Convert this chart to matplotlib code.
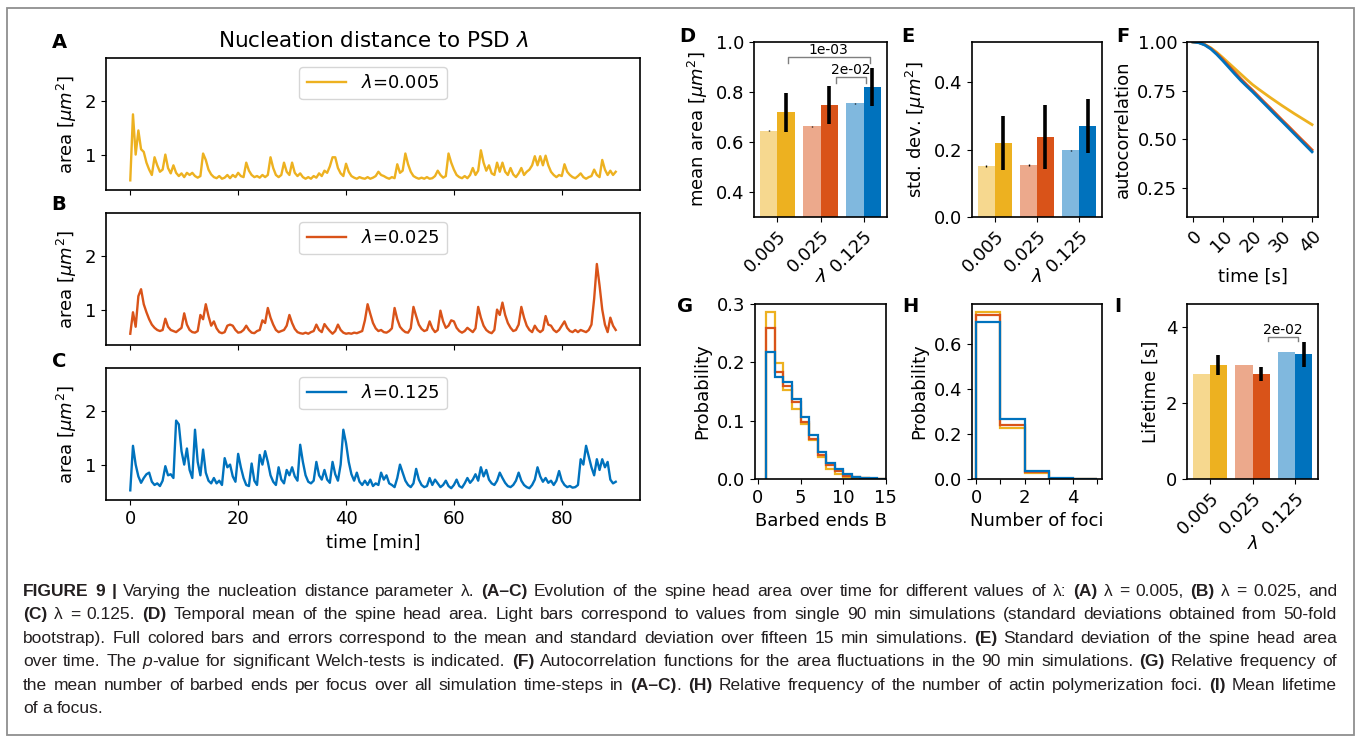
import numpy as np
import matplotlib
matplotlib.use('Agg')
import matplotlib.pyplot as plt
from matplotlib.patches import Rectangle
from matplotlib.font_manager import FontProperties, fontManager

W, H = 1357, 741

# colours (matlab default palette), light versions for the single 90 min runs
cols = ['#EDB120', '#D95319', '#0072BD']
cols_light = ['#F6D88F', '#ECA98C', '#80B8DE']
lam_labels = ['0.005', '0.025', '0.125']

# ---- A-C: spine head area, one value every 0.5 min ----
area_005 = [0.52, 1.75, 1.00, 1.45, 1.10, 1.05, 0.85, 0.72, 0.62, 0.95, 0.80, 0.68, 0.72, 1.00, 0.75, 0.65,
            0.80, 0.66, 0.60, 0.65, 0.58, 0.66, 0.62, 0.66, 0.60, 0.57, 0.60, 1.02, 0.90, 0.72, 0.63, 0.58,
            0.56, 0.60, 0.55, 0.57, 0.62, 0.56, 0.62, 0.58, 0.66, 0.60, 0.58, 0.85, 0.70, 0.62, 0.58, 0.60,
            0.57, 0.62, 0.58, 0.62, 0.95, 0.75, 0.62, 0.58, 0.62, 0.85, 0.68, 0.62, 0.85, 0.66, 0.60, 0.65,
            0.58, 0.55, 0.58, 0.55, 0.60, 0.57, 0.65, 0.60, 0.70, 0.66, 0.78, 0.95, 0.95, 0.75, 0.65, 0.60,
            0.83, 0.68, 0.60, 0.57, 0.55, 0.58, 0.56, 0.55, 0.58, 0.55, 0.57, 0.60, 0.68, 0.62, 0.60, 0.57,
            0.55, 0.58, 0.56, 0.82, 0.66, 0.70, 1.02, 0.82, 0.68, 0.60, 0.57, 0.55, 0.57, 0.55, 0.58, 0.55,
            0.56, 0.60, 0.70, 0.62, 0.57, 0.60, 1.02, 0.85, 0.72, 0.62, 0.58, 0.56, 0.60, 0.56, 0.62, 0.75,
            0.62, 0.70, 1.08, 0.85, 0.70, 0.80, 0.65, 0.62, 0.85, 0.68, 0.85, 0.68, 0.62, 0.75, 0.63, 0.58,
            0.65, 0.75, 0.62, 0.68, 0.72, 0.80, 0.97, 0.80, 0.97, 0.80, 0.98, 0.80, 0.68, 0.62, 0.58, 0.62,
            0.60, 0.82, 0.68, 0.62, 0.58, 0.56, 0.60, 0.65, 0.58, 0.55, 0.58, 0.60, 0.72, 0.62, 0.58, 0.90,
            0.72, 0.62, 0.70, 0.62, 0.68]
area_025 = [0.55, 0.95, 0.68, 1.25, 1.38, 1.10, 0.95, 0.82, 0.72, 0.66, 0.62, 0.60, 0.62, 0.83, 0.68, 0.62,
            0.60, 0.58, 0.62, 0.66, 0.93, 0.72, 0.62, 0.58, 0.57, 0.60, 0.90, 0.82, 1.10, 0.88, 0.70, 0.78,
            0.65, 0.58, 0.56, 0.58, 0.70, 0.72, 0.70, 0.62, 0.57, 0.58, 0.62, 0.70, 0.62, 0.57, 0.56, 0.60,
            0.62, 0.80, 0.75, 1.03, 0.85, 0.72, 0.62, 0.58, 0.60, 0.62, 0.70, 0.90, 0.75, 0.64, 0.58, 0.56,
            0.55, 0.57, 0.55, 0.58, 0.60, 0.72, 0.62, 0.58, 0.73, 0.66, 0.60, 0.55, 0.60, 0.72, 0.62, 0.57,
            0.55, 0.56, 0.55, 0.57, 0.56, 0.58, 0.60, 0.80, 1.10, 0.92, 0.75, 0.65, 0.60, 0.62, 0.58, 0.57,
            0.60, 0.65, 1.03, 0.82, 0.68, 0.62, 0.58, 0.57, 0.65, 1.05, 0.88, 0.72, 0.64, 0.60, 0.62, 0.78,
            0.65, 0.58, 0.62, 0.98, 0.78, 0.66, 0.70, 0.80, 0.78, 0.66, 0.60, 0.57, 0.60, 0.66, 0.62, 0.58,
            0.65, 1.05, 0.85, 0.70, 0.62, 0.58, 0.56, 0.62, 1.00, 0.90, 1.13, 0.90, 0.75, 0.66, 0.60, 0.62,
            0.72, 1.05, 0.85, 0.70, 0.62, 0.58, 0.70, 0.62, 0.58, 0.62, 0.88, 0.72, 0.70, 0.62, 0.58, 0.62,
            0.70, 0.78, 0.66, 0.60, 0.58, 0.62, 0.58, 0.62, 0.60, 0.58, 0.62, 0.72, 1.20, 1.85, 1.45, 1.00,
            0.72, 0.58, 0.85, 0.70, 0.62]
area_125 = [0.52, 1.35, 1.00, 0.78, 0.66, 0.75, 0.82, 0.85, 0.68, 0.62, 0.65, 0.60, 0.70, 0.97, 0.80, 0.82,
            0.75, 1.82, 1.75, 1.25, 1.00, 1.30, 0.90, 0.75, 1.65, 1.05, 0.80, 1.28, 0.85, 0.70, 0.65, 0.75,
            0.65, 0.70, 0.62, 1.12, 0.95, 1.00, 0.78, 0.68, 1.20, 0.95, 0.75, 0.62, 0.60, 1.02, 0.70, 0.62,
            1.18, 1.00, 1.25, 1.05, 0.80, 0.68, 0.62, 0.95, 0.72, 0.65, 0.90, 0.80, 0.95, 0.78, 0.70, 1.37,
            1.05, 0.80, 0.68, 0.65, 0.70, 1.05, 0.80, 0.72, 0.90, 0.72, 0.66, 1.05, 0.82, 0.70, 1.00, 1.65,
            1.40, 1.05, 0.82, 0.70, 0.85, 0.68, 0.62, 0.70, 0.62, 0.72, 0.60, 0.65, 0.62, 0.85, 0.72, 0.80,
            0.65, 0.62, 0.58, 0.75, 1.00, 0.85, 0.70, 0.62, 0.58, 0.65, 0.92, 0.72, 0.62, 0.58, 0.60, 0.75,
            0.62, 0.72, 0.65, 0.58, 0.62, 0.70, 0.60, 0.56, 0.62, 0.72, 0.60, 0.57, 0.65, 0.75, 0.66, 0.72,
            0.82, 0.70, 0.95, 0.78, 0.90, 0.72, 0.65, 0.62, 0.70, 0.85, 0.75, 0.66, 0.60, 0.58, 0.62, 0.70,
            0.85, 0.70, 0.62, 0.58, 0.56, 0.62, 0.72, 0.95, 0.78, 0.68, 0.75, 0.66, 0.70, 0.62, 0.70, 0.88,
            0.70, 0.62, 0.58, 0.60, 0.57, 0.58, 0.62, 1.10, 1.00, 1.35, 1.15, 0.95, 0.80, 1.10, 0.90, 1.10,
            0.95, 1.05, 0.72, 0.65, 0.68]
areas = [area_005, area_025, area_125]
dt_min = 0.5

# ---- D: mean area ----
mean_single = [0.645, 0.663, 0.755]
mean_single_err = [0.002, 0.002, 0.002]
mean_runs = [0.720, 0.748, 0.822]
mean_runs_err = [0.078, 0.077, 0.076]
brackets_D = [('1e-03', 0.24, 2.14, 0.94), ('2e-02', 1.37, 2.05, 0.86)]

# ---- E: std dev ----
std_single = [0.152, 0.155, 0.198]
std_single_err = [0.002, 0.002, 0.002]
std_runs = [0.220, 0.238, 0.270]
std_runs_err = [0.080, 0.095, 0.080]

# ---- F: autocorrelation ----
lag_s = [0, 2, 4, 6, 8, 10, 12, 14, 16, 18, 20, 22, 24, 26, 28, 30, 32, 34, 36, 38, 40]
acf_005 = [1.000, 0.997, 0.987, 0.970, 0.947, 0.920, 0.892, 0.864, 0.836, 0.808, 0.781,
           0.758, 0.736, 0.714, 0.693, 0.672, 0.652, 0.632, 0.613, 0.594, 0.575]
acf_025 = [1.000, 0.997, 0.986, 0.967, 0.941, 0.911, 0.878, 0.845, 0.812, 0.781, 0.752,
           0.721, 0.690, 0.660, 0.629, 0.598, 0.568, 0.537, 0.506, 0.476, 0.445]
acf_125 = [1.000, 0.996, 0.984, 0.964, 0.936, 0.904, 0.870, 0.836, 0.803, 0.773, 0.744,
           0.713, 0.682, 0.651, 0.620, 0.590, 0.559, 0.528, 0.497, 0.466, 0.435]
acfs = [acf_005, acf_025, acf_125]

# ---- G: barbed ends per focus ----
barbed_edges = list(range(1, 16))
barbed_005 = [0.287, 0.199, 0.152, 0.120, 0.095, 0.067, 0.037, 0.018, 0.009, 0.004, 0.002, 0.001, 0.0005, 0.0002]
barbed_025 = [0.259, 0.184, 0.159, 0.132, 0.098, 0.069, 0.041, 0.024, 0.013, 0.006, 0.003, 0.001, 0.0005, 0.0002]
barbed_125 = [0.217, 0.175, 0.166, 0.137, 0.107, 0.076, 0.046, 0.028, 0.017, 0.008, 0.004, 0.002, 0.001, 0.0005]
barbed = [barbed_005, barbed_025, barbed_125]

# ---- H: number of foci ----
foci_edges = [0, 1, 2, 3, 4, 5]
foci_005 = [0.745, 0.229, 0.025, 0.001, 0.0]
foci_025 = [0.732, 0.242, 0.030, 0.002, 0.0]
foci_125 = [0.698, 0.268, 0.037, 0.003, 0.0005]
foci = [foci_005, foci_025, foci_125]

# ---- I: lifetime ----
life_single = [2.75, 3.00, 3.33]
life_runs = [2.99, 2.76, 3.28]
life_runs_err = [0.26, 0.18, 0.33]
brackets_I = [('2e-02', 1.36, 2.06, 3.73)]

FS = 13
plt.rcParams['font.size'] = FS
plt.rcParams['axes.linewidth'] = 1.2

fig = plt.figure(figsize=(W / 100, H / 100), dpi=100)


def px_axes(x0, y0, x1, y1):
    return fig.add_axes([x0 / W, 1 - y1 / H, (x1 - x0) / W, (y1 - y0) / H])


def letter(x, y, s):
    fig.text(x / W, 1 - y / H, s, fontsize=14, fontweight='bold', ha='center', va='center')


# outer frame
fig.patches.append(Rectangle((7 / W, 1 - 735 / H), (1354 - 7) / W, (735 - 8) / H,
                             transform=fig.transFigure, fill=False, ec='#8f8f8f', lw=1.3))

# A-C time series
boxes_ac = [(106, 58, 640, 190), (106, 213, 640, 345), (106, 368, 640, 500)]
for k in range(3):
    ax = px_axes(*boxes_ac[k])
    t = np.arange(len(areas[k])) * dt_min
    ax.plot(t, areas[k], color=cols[k], lw=1.7, label=r'$\lambda$=' + lam_labels[k])
    ax.set_xlim(-4.5, 94.5)
    ax.set_ylim(0.34, 2.8)
    ax.set_yticks([1, 2])
    ax.set_xticks([0, 20, 40, 60, 80])
    ax.set_ylabel(r'area [$\mu m^2$]')
    ax.legend(loc='upper center', fontsize=FS, handlelength=2.2)
    if k < 2:
        ax.tick_params(labelbottom=False)
    else:
        ax.set_xlabel('time [min]')
    if k == 0:
        ax.set_title(r'Nucleation distance to PSD $\lambda$', fontsize=15.5, pad=8)

letter(59, 42, 'A')
letter(59, 205, 'B')
letter(59, 362, 'C')

grp = np.arange(3)


def bar_panel(ax, single, single_err, runs, runs_err):
    for k in range(3):
        ax.bar(grp[k] - 0.2, single[k], 0.4, color=cols_light[k])
        ax.bar(grp[k] + 0.2, runs[k], 0.4, color=cols[k])
    if single_err is not None:
        ax.errorbar(grp - 0.2, single, yerr=single_err, fmt='none', ecolor='k', elinewidth=1, capsize=0)
    ax.errorbar(grp + 0.2, runs, yerr=runs_err, fmt='none', ecolor='k', elinewidth=2.6, capsize=0)
    ax.set_xticks(grp)
    ax.set_xticklabels(lam_labels, rotation=45, ha='right', rotation_mode='anchor')
    ax.set_xlabel(r'$\lambda$')
    ax.xaxis.set_label_coords(0.5, -0.29)


def bracket(ax, label, x0, x1, y, h):
    ax.plot([x0, x0, x1, x1], [y - h, y, y, y - h], color='#7f7f7f', lw=1)
    ax.text((x0 + x1) / 2, y, label, ha='center', va='bottom', fontsize=10)


# D
axD = px_axes(754, 42, 887, 217)
bar_panel(axD, mean_single, mean_single_err, mean_runs, mean_runs_err)
axD.set_ylim(0.3, 1.0)
axD.set_yticks([0.4, 0.6, 0.8, 1.0])
axD.set_ylabel(r'mean area [$\mu m^2$]')
for lab, x0, x1, y in brackets_D:
    bracket(axD, lab, x0, x1, y, 0.024)
letter(687, 37, 'D')

# E
axE = px_axes(972, 42, 1102, 217)
bar_panel(axE, std_single, std_single_err, std_runs, std_runs_err)
axE.set_ylim(0, 0.52)
axE.set_yticks([0.0, 0.2, 0.4])
axE.set_ylabel(r'std. dev. [$\mu m^2$]')
letter(908, 37, 'E')

# F
axF = px_axes(1187, 42, 1318, 217)
for k in range(3):
    axF.plot(lag_s, acfs[k], color=cols[k], lw=2)
axF.set_xlim(-2, 42)
axF.set_ylim(0.1, 1.0)
axF.set_yticks([0.25, 0.5, 0.75, 1.0])
axF.set_yticklabels(['0.25', '0.50', '0.75', '1.00'])
axF.set_xticks([0, 10, 20, 30, 40])
axF.set_xticklabels(['0', '10', '20', '30', '40'], rotation=45, ha='right', rotation_mode='anchor')
axF.set_ylabel('autocorrelation')
axF.set_xlabel('time [s]')
axF.xaxis.set_label_coords(0.5, -0.29)
letter(1123, 37, 'F')

# G
axG = px_axes(755, 304, 886, 479)
for k in range(3):
    axG.stairs(barbed[k], barbed_edges, color=cols[k], lw=1.6)
axG.set_xlim(-0.35, 15.05)
axG.set_ylim(0, 0.3)
axG.set_xticks([0, 5, 10, 15])
axG.set_yticks([0.0, 0.1, 0.2, 0.3])
axG.set_ylabel('Probability')
axG.set_xlabel('Barbed ends B')
letter(685, 307, 'G')

# H
axH = px_axes(972, 304, 1102, 479)
for k in range(3):
    axH.stairs(foci[k], foci_edges, color=cols[k], lw=1.6)
axH.set_xlim(-0.17, 5.2)
axH.set_ylim(0, 0.78)
axH.set_xticks([0, 1, 2, 3, 4, 5])
axH.set_xticklabels(['0', '', '2', '', '4', ''])
axH.set_yticks([0.0, 0.2, 0.4, 0.6])
axH.set_ylabel('Probability')
axH.set_xlabel('Number of foci')
letter(910, 307, 'H')

# I
axI = px_axes(1187, 304, 1318, 479)
bar_panel(axI, life_single, None, life_runs, life_runs_err)
axI.set_ylim(0, 4.6)
axI.set_yticks([0, 2, 4])
axI.set_ylabel('Lifetime [s]')
axI.xaxis.set_label_coords(0.5, -0.32)
for lab, x0, x1, y in brackets_I:
    bracket(axI, lab, x0, x1, y, 0.09)
letter(1118, 307, 'I')

# ---- caption ----
cap_lines = [
    [("FIGURE 9 |", 'b'), ("Varying the nucleation distance parameter λ.", 'n'), ("(A–C)", 'b'),
     ("Evolution of the spine head area over time for different values of λ:", 'n'), ("(A)", 'b'),
     ("λ = 0.005,", 'n'), ("(B)", 'b'), ("λ = 0.025, and", 'n')],
    [("(C)", 'b'), ("λ = 0.125.", 'n'), ("(D)", 'b'),
     ("Temporal mean of the spine head area. Light bars correspond to values from single 90 min "
      "simulations (standard deviations obtained from 50-fold", 'n')],
    [("bootstrap). Full colored bars and errors correspond to the mean and standard deviation over "
      "fifteen 15 min simulations.", 'n'), ("(E)", 'b'), ("Standard deviation of the spine head area", 'n')],
    [("over time. The", 'n'), ("p", 'i'), ("+-value for significant Welch-tests is indicated.", 'n'),
     ("(F)", 'b'), ("Autocorrelation functions for the area fluctuations in the 90 min simulations.", 'n'),
     ("(G)", 'b'), ("Relative frequency of", 'n')],
    [("the mean number of barbed ends per focus over all simulation time-steps in", 'n'), ("(A–C)", 'b'),
     ("+.", 'n'), ("(H)", 'b'), ("Relative frequency of the number of actin polymerization foci.", 'n'),
     ("(I)", 'b'), ("Mean lifetime", 'n')],
    [("of a focus.", 'n')],
]

names = {f.name for f in fontManager.ttflist}
cap_family = 'Liberation Sans Narrow' if 'Liberation Sans Narrow' in names else 'Liberation Sans'
renderer = fig.canvas.get_renderer()


def props(style, size):
    return FontProperties(family=[cap_family, 'DejaVu Sans'], size=size,
                          weight='bold' if style == 'b' else 'normal',
                          style='italic' if style == 'i' else 'normal')


def text_w(s, prop):
    # advance width in pixels, spaces included
    w_all = renderer.get_text_width_height_descent('|' + s + '|', prop, ismath=False)[0]
    w_bar = renderer.get_text_width_height_descent('||', prop, ismath=False)[0]
    return w_all - w_bar


def tokens(line):
    out = []
    for txt, st in line:
        glue = txt.startswith('+')
        if glue:
            txt = txt[1:]
        for i, w in enumerate(txt.split(' ')):
            out.append((w, st, glue and i == 0))
    return out


x_left, x_right = 23, 1337
target = x_right - x_left
size = 12.5
# shrink the font if a line does not fit with ordinary spaces
for _ in range(2):
    worst = 0
    for line in cap_lines[:-1]:
        tk = tokens(line)
        sp = text_w(' ', props('n', size))
        nat = sum(text_w(w, props(st, size)) for w, st, g in tk)
        nat += sp * sum(1 for i, (w, st, g) in enumerate(tk) if i > 0 and not g)
        worst = max(worst, nat)
    if worst > target * 0.985:
        size = size * target * 0.985 / worst

base0, step = 596, 23.4
for li, line in enumerate(cap_lines):
    tk = tokens(line)
    widths = [text_w(w, props(st, size)) for w, st, g in tk]
    ngaps = sum(1 for i, (w, st, g) in enumerate(tk) if i > 0 and not g)
    if li < len(cap_lines) - 1:
        gap = (target - sum(widths)) / ngaps
    else:
        gap = text_w(' ', props('n', size))
    x = x_left
    yb = base0 + li * step
    for i, (w, st, g) in enumerate(tk):
        if i > 0 and not g:
            x += gap
        fig.text(x / W, 1 - yb / H, w, fontproperties=props(st, size), color='#231f20',
                 ha='left', va='baseline')
        x += widths[i]

fig.savefig('out.png', dpi=100)
